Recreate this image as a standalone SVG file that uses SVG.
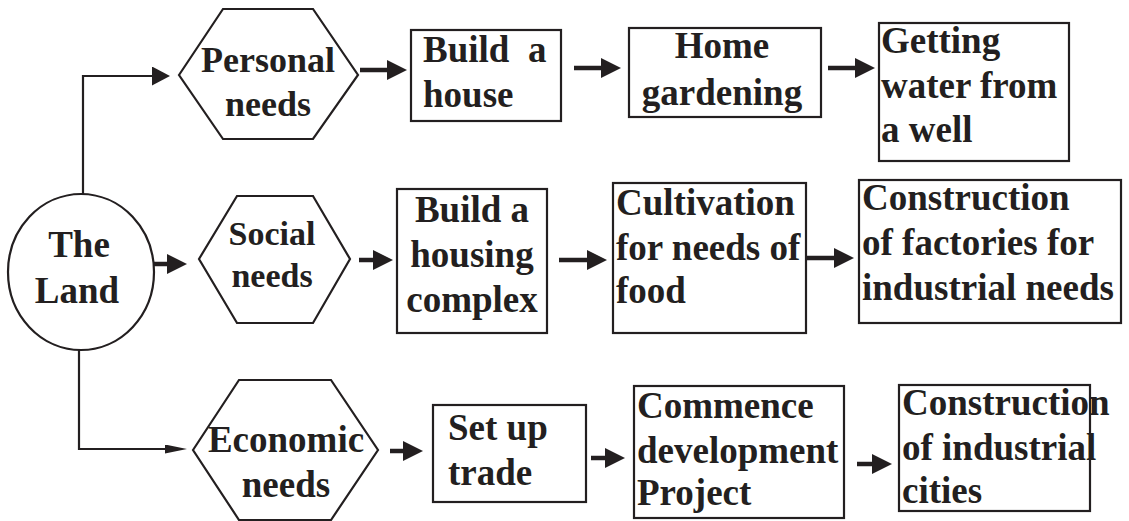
<svg xmlns="http://www.w3.org/2000/svg" width="1129" height="521" viewBox="0 0 1129 521">
<defs>
<style>
.shape{fill:#fff;stroke:#231f20;stroke-width:2.2}
.t{font-weight:bold;font-size:37px;fill:#231f20}
.c{text-anchor:middle}
.thin{fill:none;stroke:#231f20;stroke-width:2.2}
.thick{fill:none;stroke:#231f20;stroke-width:4.5}
</style>
<marker id="ahThin" viewBox="0 0 18 19" markerWidth="18" markerHeight="19" refX="8" refY="9.5" orient="auto" markerUnits="userSpaceOnUse"><path d="M0,0 L18,9.5 L0,19 z" fill="#231f20"/></marker>
<marker id="ahNarrow" viewBox="0 0 22 9" markerWidth="22" markerHeight="9" refX="11" refY="4.5" orient="auto" markerUnits="userSpaceOnUse"><path d="M0,0 L22,4.5 L0,9 z" fill="#231f20"/></marker>
<marker id="ahThick" viewBox="0 0 20 20" markerWidth="20" markerHeight="20" refX="10" refY="10" orient="auto" markerUnits="userSpaceOnUse"><path d="M0,0 L20,10 L0,20 z" fill="#231f20"/></marker>
</defs>
<rect width="1129" height="521" fill="#fff"/>

<g id="connectors">
<path class="thin" d="M83,195 V76 H160" marker-end="url(#ahThin)"/>
<path class="thin" d="M79,350 V449 H176" marker-end="url(#ahNarrow)"/>
<path class="thick" d="M153,264 H177" marker-end="url(#ahThick)"/>
<path class="thick" d="M360,70 H397" marker-end="url(#ahThick)"/>
<path class="thick" d="M574,68 H611" marker-end="url(#ahThick)"/>
<path class="thick" d="M828,68 H865" marker-end="url(#ahThick)"/>
<path class="thick" d="M359,260 H383" marker-end="url(#ahThick)"/>
<path class="thick" d="M559,260 H597" marker-end="url(#ahThick)"/>
<path class="thick" d="M806,258 H844" marker-end="url(#ahThick)"/>
<path class="thick" d="M390,451 H413" marker-end="url(#ahThick)"/>
<path class="thick" d="M591,458 H615" marker-end="url(#ahThick)"/>
<path class="thick" d="M857,464 H882" marker-end="url(#ahThick)"/>
</g>

<g font-family="'Liberation Serif', 'Times New Roman', 'DejaVu Serif', serif">
<g id="the-land">
<ellipse class="shape" cx="81" cy="272" rx="73" ry="78"/>
<text class="t c" x="79" y="257" font-size="36">The</text>
<text class="t c" x="77" y="303" font-size="36">Land</text>
</g>

<g id="personal-needs">
<polygon class="shape" points="179,75 223,9 313,9 358,75 313,139 223,139"/>
<text class="t c" x="268" y="72" style="font-size:36px">Personal</text>
<text class="t c" x="268" y="116" style="font-size:36px">needs</text>
</g>

<g id="build-house">
<rect class="shape" x="411" y="30" width="150" height="91"/>
<text class="t" x="423" y="62" xml:space="preserve">Build  a</text>
<text class="t" x="423" y="107">house</text>
</g>

<g id="home-gardening">
<rect class="shape" x="629" y="28" width="192" height="89"/>
<text class="t c" x="722" y="58">Home</text>
<text class="t c" x="722" y="105">gardening</text>
</g>

<g id="getting-water">
<rect class="shape" x="879" y="23" width="190" height="138"/>
<text class="t" x="881" y="53">Getting</text>
<text class="t" x="881" y="98">water from</text>
<text class="t" x="881" y="142">a well</text>
</g>

<g id="social-needs">
<polygon class="shape" points="199,259 237,196 313,196 350,259 313,323 237,323"/>
<text class="t c" x="272" y="245" style="font-size:34px">Social</text>
<text class="t c" x="272" y="287" style="font-size:34px">needs</text>
</g>

<g id="build-housing-complex">
<rect class="shape" x="397" y="189" width="150" height="144"/>
<text class="t c" x="472" y="222">Build a</text>
<text class="t c" x="472" y="267">housing</text>
<text class="t c" x="472" y="312">complex</text>
</g>

<g id="cultivation">
<rect class="shape" x="613" y="183" width="193" height="150"/>
<text class="t" x="616" y="215">Cultivation</text>
<text class="t" x="616" y="260">for needs of</text>
<text class="t" x="616" y="303">food</text>
</g>

<g id="construction-factories">
<rect class="shape" x="859" y="180" width="262" height="143"/>
<text class="t" x="862" y="210">Construction</text>
<text class="t" x="862" y="255">of factories for</text>
<text class="t" x="862" y="300">industrial needs</text>
</g>

<g id="economic-needs">
<polygon class="shape" points="193,450 239,380 331,380 378,450 331,520 239,520"/>
<text class="t c" x="286" y="452">Economic</text>
<text class="t c" x="286" y="497">needs</text>
</g>

<g id="set-up-trade">
<rect class="shape" x="433" y="405" width="153" height="97"/>
<text class="t" x="448" y="440">Set up</text>
<text class="t" x="448" y="485">trade</text>
</g>

<g id="commence-development">
<rect class="shape" x="634" y="386" width="210" height="132"/>
<text class="t" x="637" y="418">Commence</text>
<text class="t" x="637" y="463">development</text>
<text class="t" x="637" y="505">Project</text>
</g>

<g id="construction-cities">
<rect class="shape" x="899" y="385" width="191" height="126"/>
<text class="t" x="902" y="415">Construction</text>
<text class="t" x="902" y="460">of industrial</text>
<text class="t" x="902" y="503">cities</text>
</g>
</g>
</svg>
